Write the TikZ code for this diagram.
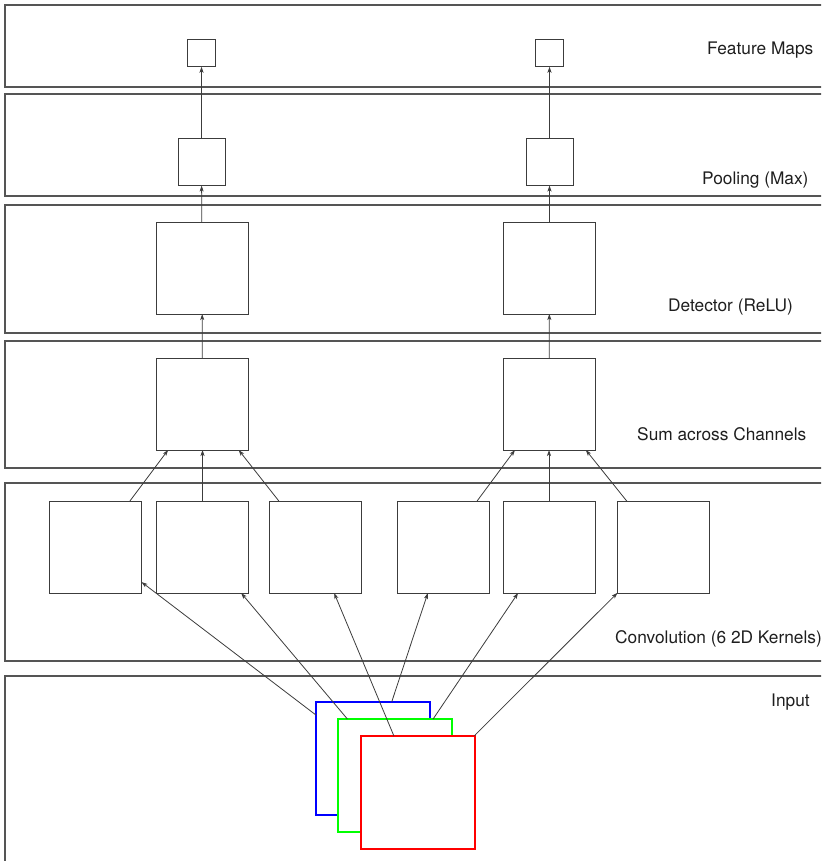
\documentclass[tikz,border=0pt]{standalone}
\usepackage{fontspec}
\setmainfont{TeX Gyre Heros}
\usetikzlibrary{arrows.meta}
\definecolor{bandgray}{RGB}{85,85,85}
\definecolor{linegray}{RGB}{60,60,60}
\definecolor{txtgray}{RGB}{30,30,30}
\definecolor{pureblue}{RGB}{0,0,255}
\definecolor{puregreen}{RGB}{0,255,0}
\definecolor{purered}{RGB}{255,0,0}
\begin{document}
\begin{tikzpicture}[x=1pt,y=-1pt,
  band/.style={draw=bandgray, line width=1.4pt},
  box/.style={draw=linegray, line width=0.9pt, fill=white, minimum width=#1, minimum height=#1, inner sep=0pt, outer sep=0pt},
  insq/.style={draw=#1, line width=2pt, fill=white, minimum width=114pt, minimum height=113pt, inner sep=0pt, outer sep=0pt},
  arr/.style={draw=linegray, line width=0.8pt, -{Stealth[length=6pt,width=4pt,inset=1.5pt]}},
  lab/.style={anchor=base west, inner sep=0pt, text=txtgray, font=\fontsize{17.3}{20}\selectfont}
]
\useasboundingbox (0,0) rectangle (821,861);
\clip (0,0) rectangle (821,861);
% bands
\draw[band] (5,5) rectangle (840,87);
\draw[band] (5,94) rectangle (840,196);
\draw[band] (5,205) rectangle (840,333);
\draw[band] (5,341) rectangle (840,468);
\draw[band] (5,483) rectangle (840,661);
\draw[band] (5,676) rectangle (840,890);
% labels
\node[lab] (lfm) at (707,55) {Feature Maps};
\node[lab] (lpool) at (702,184) {Pooling (Max)};
\node[lab] (ldet) at (668,311.5) {Detector (ReLU)};
\node[lab] (lsum) at (637,440.5) {Sum across Channels};
\node[lab] (lconv) at (615,643) {Convolution (6 2D Kernels)};
\node[lab] (lin) at (771,706) {Input};
% feature maps
\node[box=27.5pt] (fm1) at (201.5,53) {};
\node[box=27.5pt] (fm2) at (549.5,53) {};
% pooling
\node[box=47pt] (p1) at (201.5,162) {};
\node[box=47pt] (p2) at (549.5,162) {};
% detector
\node[box=92pt] (d1) at (202,268) {};
\node[box=92pt] (d2) at (549.5,268) {};
% sum
\node[box=92pt] (s1) at (202.5,404) {};
\node[box=92pt] (s2) at (549,404) {};
% convolution
\node[box=92pt] (c1) at (95.5,547) {};
\node[box=92pt] (c2) at (202.5,547) {};
\node[box=92pt] (c3) at (315,547) {};
\node[box=92pt] (c4) at (443,547) {};
\node[box=92pt] (c5) at (549,547) {};
\node[box=92pt] (c6) at (663.5,547) {};
% input channels
\node[insq=pureblue] (inB) at (373,758.5) {};
\node[insq=puregreen] (inG) at (395,775.5) {};
\node[insq=purered] (inR) at (417.5,792.5) {};
% connectors
\draw[arr] (inB) -- (c1);
\draw[arr] (inG) -- (c2);
\draw[arr] (inR) -- (c3);
\draw[arr] (inB) -- (c4);
\draw[arr] (inG) -- (c5);
\draw[arr] (inR) -- (c6);
\draw[arr] (c1) -- (s1);
\draw[arr] (c2) -- (s1);
\draw[arr] (c3) -- (s1);
\draw[arr] (c4) -- (s2);
\draw[arr] (c5) -- (s2);
\draw[arr] (c6) -- (s2);
\draw[arr] (s1) -- (d1);
\draw[arr] (s2) -- (d2);
\draw[arr] (d1) -- (p1);
\draw[arr] (d2) -- (p2);
\draw[arr] (p1) -- (fm1);
\draw[arr] (p2) -- (fm2);
\end{tikzpicture}
\end{document}
